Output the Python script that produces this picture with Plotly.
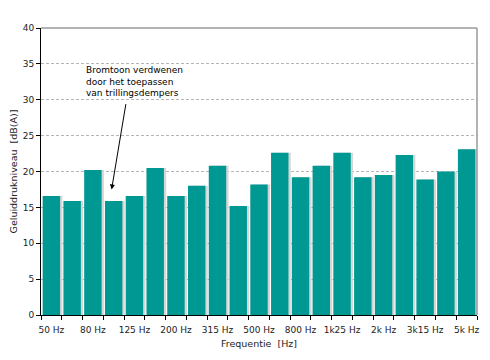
import plotly.graph_objects as go

categories = ["50 Hz", "63 Hz", "80 Hz", "100 Hz", "125 Hz", "160 Hz", "200 Hz", "250 Hz",
              "315 Hz", "400 Hz", "500 Hz", "630 Hz", "800 Hz", "1k Hz", "1k25 Hz", "1k6 Hz",
              "2k Hz", "2k5 Hz", "3k15 Hz", "4k Hz", "5k Hz"]
levels = [16.6, 15.9, 20.2, 15.9, 16.6, 20.5, 16.6, 18.0, 20.8, 15.2, 18.2, 22.6,
          19.2, 20.8, 22.6, 19.2, 19.5, 22.3, 18.9, 20.0, 23.1]
y_ticks = [0, 5, 10, 15, 20, 25, 30, 35, 40]

xs = list(range(len(categories)))
shown_idx = xs[::2]
shown_labels = [categories[i] for i in shown_idx]
boundaries = [i - 0.5 for i in xs] + [len(xs) - 0.5]

FONT = "DejaVu Sans"
TEAL = "#009893"

fig = go.Figure()
# drop shadow
fig.add_trace(go.Bar(x=xs, y=levels, width=0.84, offset=-0.42 + 0.11,
                     marker=dict(color="#d6d6d6", line=dict(width=0)),
                     hoverinfo="skip", showlegend=False))
fig.add_trace(go.Bar(x=xs, y=levels, width=0.84, offset=-0.42,
                     marker=dict(color=TEAL, line=dict(width=0)),
                     showlegend=False))

fig.update_layout(
    width=482, height=352,
    margin=dict(l=33, r=13, t=20, b=45),
    paper_bgcolor="white", plot_bgcolor="white",
    barmode="overlay",
    font=dict(family=FONT, size=9, color="#222222"),
    xaxis=dict(range=[-0.5, len(xs) - 0.5], tickmode="array", tickvals=shown_idx,
               ticktext=shown_labels, ticks="outside", ticklen=6,
               tickcolor="rgba(0,0,0,0)", showgrid=False, zeroline=False,
               showline=True, linecolor="black", linewidth=1, automargin=False,
               minor=dict(tickmode="array", tickvals=boundaries, ticks="outside",
                          ticklen=4, tickcolor="black", showgrid=False),
               title=dict(text="Frequentie  [Hz]", font=dict(size=9.5), standoff=6),
               fixedrange=True),
    yaxis=dict(range=[0, 40], tickmode="array", tickvals=y_ticks, ticks="outside",
               ticklen=4, tickcolor="black", showline=True, linecolor="black",
               linewidth=1, showgrid=True, gridcolor="#b5b5b5", griddash="3px,2px",
               gridwidth=1, zeroline=False, automargin=False,
               title=dict(text="Geluiddrukniveau  [dB(A)]", font=dict(size=9.5), standoff=8),
               fixedrange=True),
    shapes=[
        dict(type="line", xref="paper", yref="paper", x0=0, x1=1, y0=1, y1=1,
             line=dict(color="#9a9a9a", width=1.5)),
        dict(type="line", xref="paper", yref="paper", x0=1, x1=1, y0=0, y1=1,
             line=dict(color="#9a9a9a", width=1.5)),
    ],
    annotations=[
        dict(x=1.55, y=32.6, xref="x", yref="y", xanchor="left", yanchor="middle",
             align="left", showarrow=False,
             text="Bromtoon verdwenen<br>door het toepassen<br>van trillingsdempers",
             font=dict(family=FONT, size=9, color="black")),
        dict(x=2.9, y=17.5, xref="x", yref="y", ax=3.6, ay=29.6, axref="x", ayref="y",
             text="", showarrow=True, arrowhead=2, arrowsize=1, arrowwidth=1,
             arrowcolor="black"),
    ],
)

fig.write_html("out.html")
